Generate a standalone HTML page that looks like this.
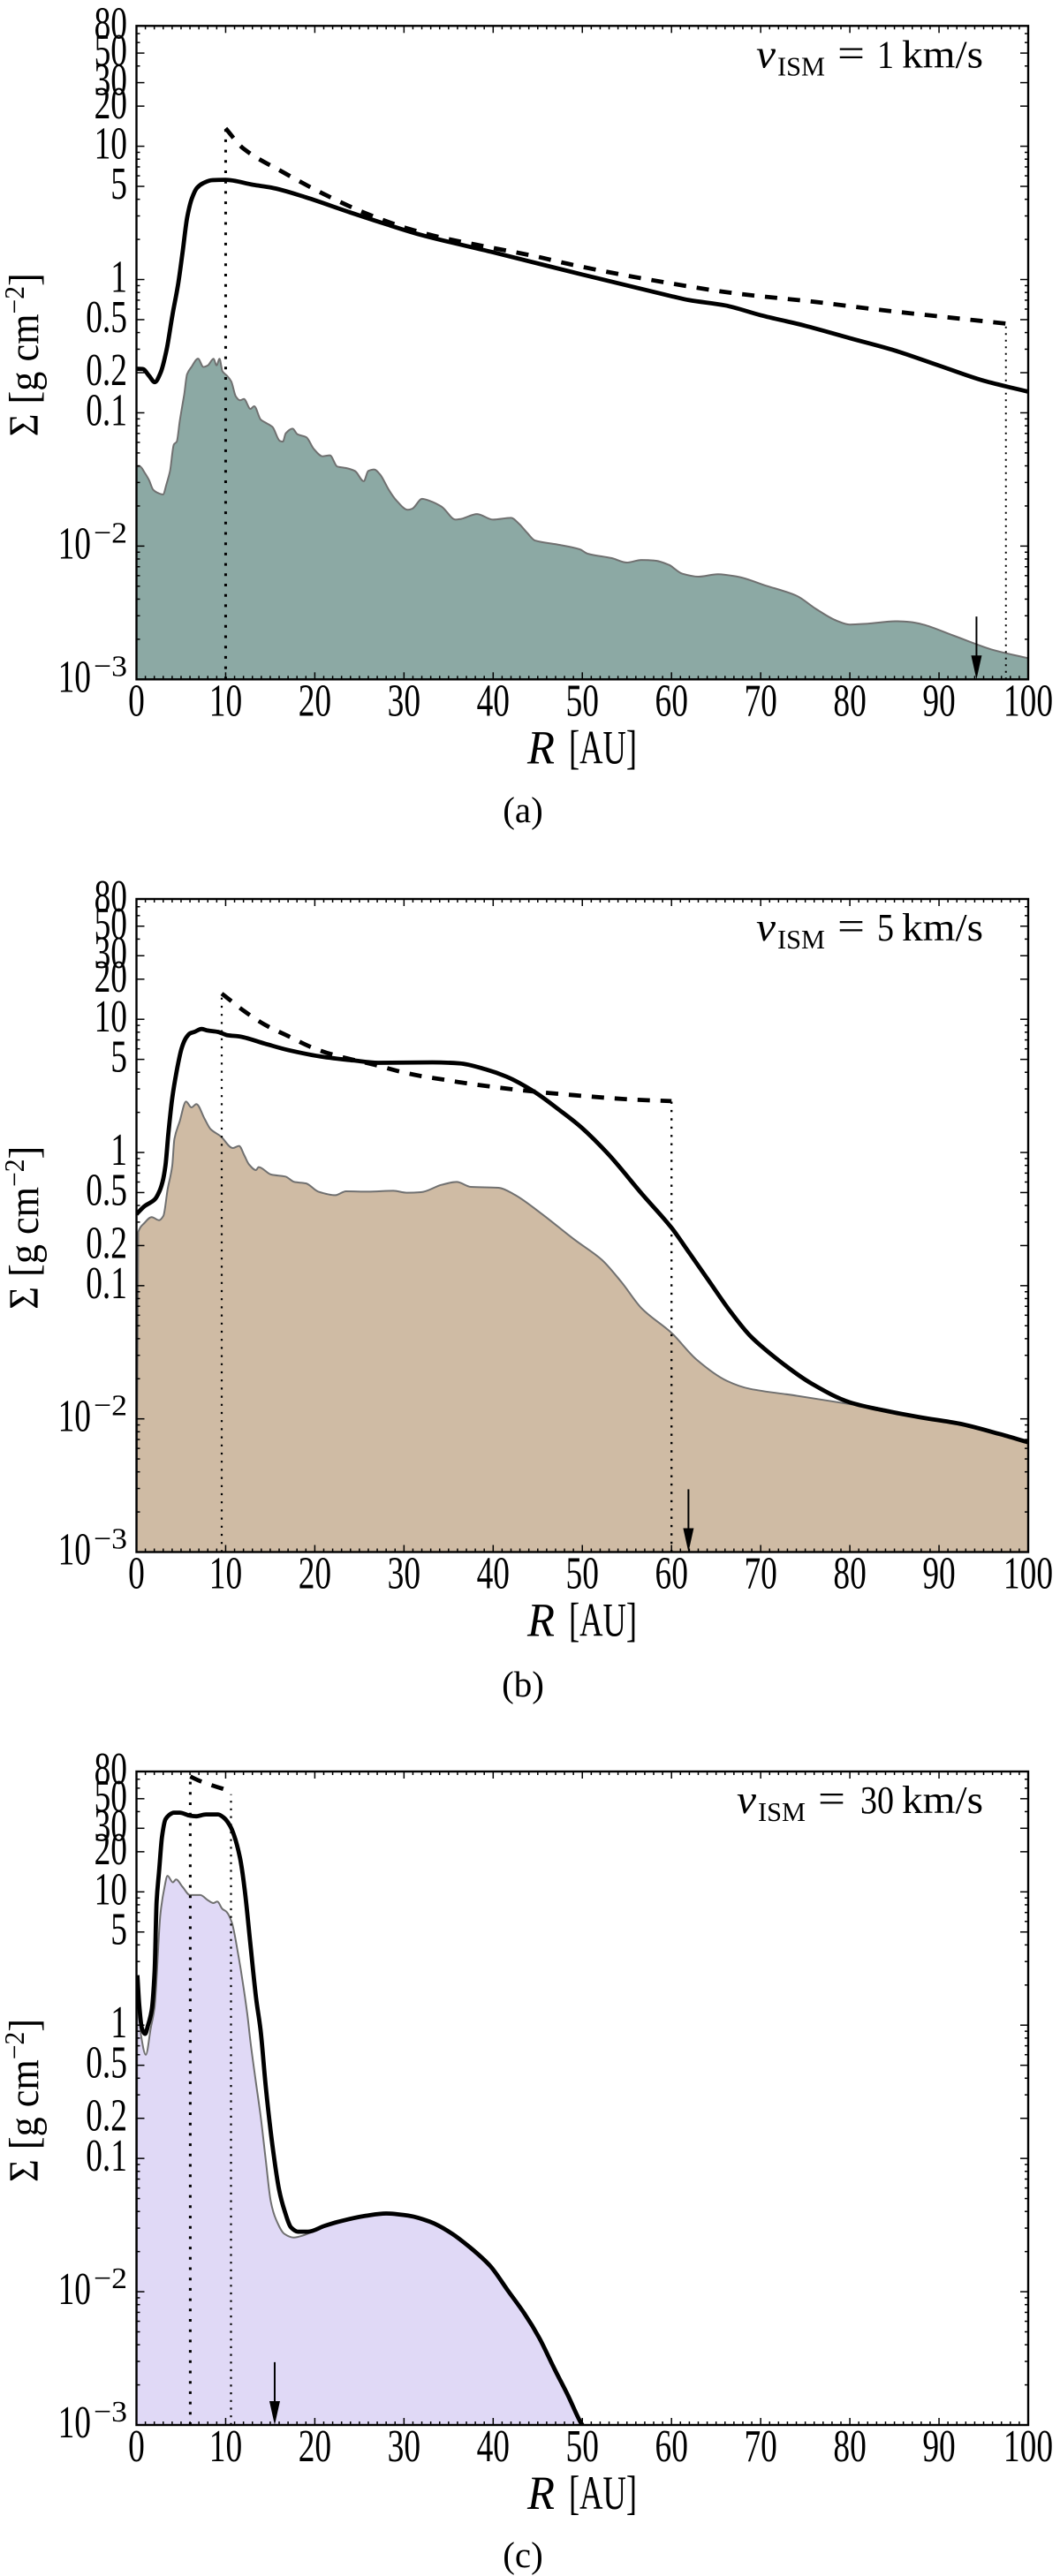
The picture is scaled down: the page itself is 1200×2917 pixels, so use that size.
<!DOCTYPE html>
<html lang="en">
<head>
<meta charset="utf-8">
<title>Surface density profiles</title>
<style>
html,body{margin:0;padding:0;background:#fff;}
svg{display:block;}
text{font-family:"Liberation Serif","DejaVu Serif",serif;fill:#000;}
</style>
</head>
<body>
<svg id="figure" xmlns="http://www.w3.org/2000/svg" width="1200" height="2917" viewBox="0 0 1200 2917"></svg>
<script>
// ---------- shared axis data ----------
const xTickValues = [0,10,20,30,40,50,60,70,80,90,100];
const xTickLabels = ["0","10","20","30","40","50","60","70","80","90","100"];
const yTickValues = [0.001,0.01,0.1,0.2,0.5,1,5,10,20,30,50,80];
const yTickLabels = ["10^-3","10^-2","0.1","0.2","0.5","1","5","10","20","30","50","80"];
const yMinorMultipliers = [2,3,4,5,6,7,8,9];
const arrowTopSigma = 0.00296;

// ---------- panel (a) v = 1 km/s ----------
const aDustR = [0,0,0.4,0.9,1.39,1.88,2.38,2.97,3.37,3.76,4.19,4.52,4.85,5.18,5.35,5.68,6.17,6.9,7.5,8,8.65,8.98,9.31,9.64,10.14,10.63,11.13,11.62,12.05,12.78,13.2,13.93,14.43,15.25,16.08,16.41,16.74,17.5,18.06,19.05,19.88,20.87,21.69,22.52,23.51,24.5,25.49,25.99,26.65,27.31,28.3,29.12,30.44,30.94,32.03,32.92,34.24,35.8,36.4,38.2,39.97,42,42.9,43.8,44.7,47.1,49.7,50.6,53.3,55,56.6,58.1,59.7,61.2,63,65.2,67.4,70.5,74,76.2,78.5,80,82,85.1,86.8,88.2,91.7,96.1,100];
const aDustSigma = [0.001,0.0395,0.0395,0.0357,0.0315,0.0264,0.0251,0.0244,0.0292,0.0366,0.0578,0.0608,0.0867,0.1175,0.1365,0.195,0.221,0.255,0.221,0.227,0.254,0.227,0.254,0.205,0.19,0.172,0.133,0.124,0.127,0.107,0.112,0.089,0.0846,0.0784,0.0615,0.0608,0.0701,0.076,0.069,0.0656,0.0536,0.0472,0.048,0.0395,0.0385,0.0366,0.0307,0.0366,0.0376,0.0345,0.0264,0.0221,0.0187,0.0191,0.0226,0.0218,0.0197,0.0158,0.016,0.0174,0.0158,0.0163,0.0147,0.0126,0.011,0.0103,0.00946,0.00877,0.00812,0.00753,0.00787,0.0078,0.00723,0.00621,0.0059,0.00615,0.0059,0.00507,0.00425,0.00338,0.00276,0.00258,0.00262,0.00273,0.00269,0.00258,0.00212,0.00166,0.00144];
const aGasR = [0,0.7,1.4,2.05,2.7,3.36,4.03,4.7,5.2,5.68,6.2,6.8,7.5,8.5,10,13.1,15.1,19,24,28,31.7,40,50,60,62,66,70,75,80,85,90,95,100];
const aGasSigma = [0.214,0.213,0.19,0.17,0.2,0.293,0.54,0.946,1.66,2.9,4.04,4.88,5.29,5.57,5.6,5.13,4.9,4.14,3.18,2.6,2.18,1.6,1.09,0.75,0.7,0.64,0.54,0.45,0.363,0.294,0.226,0.174,0.144];
const aDiskR = [10,12,16.5,21,25.6,30.2,34,39.3,44.6,49.1,56.7,67.3,75.7,83.2,97.5];
const aDiskSigma = [13.6,9.6,6.35,4.38,3.16,2.44,2.08,1.76,1.5,1.28,1.02,0.785,0.684,0.594,0.467];
const aDottedR = [10,97.5];
const aDottedTop = [13.6,0.467];
const aArrowR = 94.2;

// ---------- panel (b) v = 5 km/s ----------
const bDustR = [0,0.2,0.88,1.7,2.53,3.02,3.5,4.01,4.25,4.84,5.56,6.16,6.72,7.64,8.3,9.46,10.8,11.5,12.1,12.6,13.4,13.7,15.1,16.7,17.7,19,20.4,22.3,23.5,26,28.8,30.3,31.9,34.2,35.9,37.5,40.6,42.3,45.3,49.1,52.2,54.4,56.7,60,62.8,66.2,68.8,74.1,80,84,87.8,92.3,96.9,100];
const bDustSigma = [0.001,0.253,0.295,0.327,0.31,0.335,0.53,0.796,1.26,1.71,2.41,2.18,2.31,1.79,1.5,1.32,1.08,1.12,0.95,0.817,0.737,0.776,0.683,0.659,0.601,0.586,0.508,0.478,0.511,0.508,0.516,0.499,0.503,0.571,0.601,0.552,0.543,0.487,0.352,0.222,0.156,0.106,0.067,0.0442,0.0279,0.0193,0.0168,0.0149,0.0129,0.0118,0.0102,0.0091,0.00755,0.00655];
const bGasR = [0,0.88,2.03,2.53,2.92,3.25,3.58,4.01,4.5,5.07,5.56,5.99,6.49,7.31,7.97,9.13,10.28,11.44,14.4,17.07,21,24.3,27.1,33.2,36.2,39.3,41.5,44.6,47.6,49.9,52.9,56.7,60,62,64.3,66.6,68.8,71.9,75.7,80,83.2,87.8,92.3,96.9,100];
const bGasSigma = [0.344,0.394,0.443,0.503,0.601,0.796,1.39,2.56,4.05,6.08,7.26,7.83,8.04,8.45,8.24,8.04,7.57,7.45,6.56,5.86,5.21,4.91,4.71,4.75,4.67,4.18,3.71,2.86,2.04,1.54,0.973,0.487,0.272,0.176,0.106,0.064,0.0422,0.0279,0.0184,0.0133,0.0118,0.0103,0.0092,0.00766,0.00667];
const bDiskR = [9.56,12.1,14.4,17.07,19.7,22,27.1,29.3,31.9,34.6,37.5,43,49.1,56,60];
const bDiskSigma = [15.6,11.5,9.1,7.45,6.14,5.43,4.48,4.09,3.75,3.51,3.27,2.94,2.69,2.49,2.43];
const bDottedR = [9.56,60];
const bDottedTop = [15.6,2.43];
const bArrowR = 61.9;

// ---------- panel (c) v = 30 km/s ----------
const cDustR = [0,0.1,0.5,1.05,1.6,2.03,2.69,3.15,3.48,4.08,4.44,5.17,6,7.15,8,8.63,9.06,9.63,10.1,10.68,11.44,11.9,12.42,12.8,13.37,13.93,14.5,15.07,15.64,16.6,17.6,18.67,20,21.1,23,25.7,28,30.6,32.9,35.2,37.4,39.7,41.6,43.5,45.2,46.9,48.4,49.8,50];
const cDustSigma = [0.001,1.9,0.85,0.6,0.95,1.36,6.9,10.9,13.2,11.8,12.4,10.9,9.46,9.46,8.67,8.24,8.45,7.45,7.08,5.93,3.3,2.14,1.22,0.737,0.381,0.207,0.0966,0.0473,0.0349,0.0271,0.0255,0.0264,0.0288,0.0312,0.034,0.0371,0.0386,0.0371,0.0335,0.0278,0.0215,0.0155,0.0103,0.00687,0.00446,0.00261,0.00166,0.00105,0.001];
const cGasR = [0.1,0.3,0.6,0.97,1.3,1.7,2.03,2.26,2.53,2.86,3.25,3.68,4.18,4.84,6,6.65,7.8,9.13,9.8,10.45,10.95,11.6,12.1,12.76,13.42,13.93,14.5,15.26,16,16.6,17.35,18.1,19.24,21.1,23,25.7,28,30.6,32.9,35.2,37.4,39.7,41.6,43.5,45.2,46.9,48.4,49.8,50];
const cGasSigma = [2.37,1.45,0.95,0.86,1,1.29,2.5,8.46,14.1,25.9,35,37.8,39.3,39.3,37.3,36.9,38.1,38.1,36,31.7,26.5,18.1,10.9,4.15,1.58,0.904,0.344,0.124,0.058,0.0406,0.0303,0.0282,0.0282,0.0312,0.034,0.0371,0.0386,0.0371,0.0335,0.0278,0.0215,0.0155,0.0103,0.00687,0.00446,0.00261,0.00166,0.00105,0.001];
const cDiskR = [6.03,7.1,9.7,10.6];
const cDiskSigma = [73.3,68,59.3,57];
const cDottedR = [6.03,10.6];
const cDottedTop = [73.3,54];
const cArrowR = 15.5;

// ---------- drawing ----------
const NS = 'http://www.w3.org/2000/svg';
const figure = document.getElementById('figure');
const PLOT_LEFT = 154.5, PLOT_RIGHT = 1164;

function mk(tag, parent, attrs, txt) {
  const el = document.createElementNS(NS, tag);
  for (const k in attrs) el.setAttribute(k, attrs[k]);
  if (txt !== undefined) el.textContent = txt;
  parent.appendChild(el);
  return el;
}
function xScale(r) { return PLOT_LEFT + r / 100 * (PLOT_RIGHT - PLOT_LEFT); }
function makeYScale(top, bottom) {
  const span = Math.log10(80) + 3;
  return v => bottom - (Math.log10(v) + 3) / span * (bottom - top);
}
// monotone cubic path through the data points, skipping vertical steps
function curvePath(rs, vs, y) {
  const X = rs.map(xScale), Y = vs.map(y), n = X.length;
  const s = [], m = [];
  for (let i = 0; i < n - 1; i++) s.push((Y[i + 1] - Y[i]) / Math.max(X[i + 1] - X[i], 1e-6));
  for (let i = 0; i < n; i++) {
    if (i === 0) m.push(s[0]);
    else if (i === n - 1) m.push(s[n - 2]);
    else m.push(s[i - 1] * s[i] <= 0 ? 0 : 2 * s[i - 1] * s[i] / (s[i - 1] + s[i]));
  }
  let d = 'M' + X[0].toFixed(1) + ' ' + Y[0].toFixed(1);
  for (let i = 0; i < n - 1; i++) {
    const h = X[i + 1] - X[i];
    if (h < 1e-6) { d += 'L' + X[i + 1].toFixed(1) + ' ' + Y[i + 1].toFixed(1); continue; }
    const tail = (i === 0 && s[0] > 1000) ? 0 : m[i];
    d += 'C' + (X[i] + h / 3).toFixed(1) + ' ' + (Y[i] + tail * h / 3).toFixed(1) + ' ' +
         (X[i + 1] - h / 3).toFixed(1) + ' ' + (Y[i + 1] - m[i + 1] * h / 3).toFixed(1) + ' ' +
         X[i + 1].toFixed(1) + ' ' + Y[i + 1].toFixed(1);
  }
  return d;
}

function drawPanel(p) {
  const y = makeYScale(p.top, p.bottom);
  const g = mk('g', figure, {});
  
  

  const clipId = 'clip-' + p.key;
  const defs = mk('defs', g, {});
  const cp = mk('clipPath', defs, {id: clipId});
  mk('rect', cp, {x: PLOT_LEFT, y: p.top, width: PLOT_RIGHT - PLOT_LEFT, height: p.bottom - p.top});
  const plot = mk('g', g, {'clip-path': 'url(#' + clipId + ')'});

  // dust area
  const dustD = curvePath(p.dustR, p.dustV, y);
  const lastX = xScale(p.dustR[p.dustR.length - 1]).toFixed(1);
  const area = mk('path', plot, {d: dustD + 'L' + lastX + ' ' + p.bottom + 'L' + PLOT_LEFT + ' ' + p.bottom + 'Z', fill: p.fill, stroke: 'none'});
  
  
  const dustLine = mk('path', plot, {d: dustD, fill: 'none', stroke: '#707070', 'stroke-width': 2, 'stroke-linejoin': 'round'});
  
  

  // dotted verticals
  p.dotR.forEach((r, i) => {
    const d = mk('line', plot, {x1: xScale(r), x2: xScale(r), y1: p.bottom, y2: y(p.dotTop[i]), stroke: '#000', 'stroke-width': p.dotW[i], 'stroke-dasharray': p.dotW[i] + ' ' + p.dotGap[i]});
    
    
  });

  // dashed initial disk
  const dash = mk('path', plot, {d: curvePath(p.diskR, p.diskV, y), fill: 'none', stroke: '#000', 'stroke-width': 4.8, 'stroke-dasharray': '14 12'});
  
  

  // solid gas
  const gas = mk('path', plot, {d: curvePath(p.gasR, p.gasV, y), fill: 'none', stroke: '#000', 'stroke-width': 4.8, 'stroke-linejoin': 'round', 'stroke-linecap': 'butt'});
  
  

  // arrow
  const ax = xScale(p.arrowR);
  const shaft = mk('line', g, {x1: ax, x2: ax, y1: y(arrowTopSigma), y2: p.bottom - 20, stroke: '#000', 'stroke-width': 2});
  
  
  const head = mk('polygon', g, {points: (ax - 6) + ',' + (p.bottom - 27) + ' ' + (ax + 6) + ',' + (p.bottom - 27) + ' ' + ax + ',' + p.bottom, fill: '#000'});
  
  

  // ticks
  const ticks = mk('g', g, {stroke: '#000', 'stroke-width': 1.5, fill: 'none'});
  
  
  for (let r = 0; r <= 100; r++) {
    const len = r % 10 === 0 ? 8 : 4;
    const xx = xScale(r);
    mk('line', ticks, {x1: xx, x2: xx, y1: p.bottom, y2: p.bottom - len});
    mk('line', ticks, {x1: xx, x2: xx, y1: p.top, y2: p.top + len});
  }
  for (let e = -3; e <= 1; e++) {
    [1].concat(yMinorMultipliers).forEach(m => {
      const v = m * Math.pow(10, e);
      if (v > 80.001) return;
      const major = yTickValues.some(t => Math.abs(t - v) / v < 1e-6);
      const len = major ? 9 : 4;
      const yy = y(v);
      mk('line', ticks, {x1: PLOT_LEFT, x2: PLOT_LEFT + len, y1: yy, y2: yy});
      mk('line', ticks, {x1: PLOT_RIGHT, x2: PLOT_RIGHT - len, y1: yy, y2: yy});
    });
  }

  // frame
  const frame = mk('rect', g, {x: PLOT_LEFT, y: p.top, width: PLOT_RIGHT - PLOT_LEFT, height: p.bottom - p.top, fill: 'none', stroke: '#000', 'stroke-width': 2.4});
  
  

  // x tick labels
  xTickValues.forEach((v, i) => {
    const t = mk('text', g, {transform: 'translate(' + xScale(v) + ',' + (p.bottom + 41) + ') scale(0.72,1)', 'font-size': 52, 'text-anchor': 'middle'}, xTickLabels[i]);
    
    
  });

  // y tick labels
  yTickValues.forEach((v, i) => {
    const s = yTickLabels[i];
    const base = y(v) + 14;
    if (s.indexOf('^') >= 0) {
      const parts = s.split('^');
      const t1 = mk('text', g, {transform: 'translate(103,' + base + ') scale(0.72,1)', 'font-size': 52, 'text-anchor': 'end'}, parts[0]);
      
      
      const t2 = mk('text', g, {x: 106, y: base - 18, 'font-size': 34, textLength: 38, lengthAdjust: 'spacingAndGlyphs'}, parts[1].replace('-', '\u2212'));
      
      
    } else {
      const t = mk('text', g, {transform: 'translate(144,' + base + ') scale(0.72,1)', 'font-size': 52, 'text-anchor': 'end'}, s);
      
      
    }
  });

  // y axis title
  const yBase = (p.top + p.bottom) / 2 + 95;
  const yt = mk('text', g, {transform: 'translate(43,' + yBase + ') rotate(-90)', 'font-size': 48, textLength: 185, lengthAdjust: 'spacingAndGlyphs'});
  
  
  mk('tspan', yt, {}, '\u03A3 [g cm');
  mk('tspan', yt, {'font-size': 32, dy: -16}, '\u22122');
  mk('tspan', yt, {dy: 16}, ']');

  // x axis title
  const xt1 = mk('text', g, {x: 597, y: p.bottom + 95, 'font-size': 54, 'font-style': 'italic', textLength: 31, lengthAdjust: 'spacingAndGlyphs'}, 'R');
  
  
  const xt2 = mk('text', g, {x: 644, y: p.bottom + 95, 'font-size': 54, textLength: 77, lengthAdjust: 'spacingAndGlyphs'}, '[AU]');
  
  

  // velocity annotation
  const ann = mk('g', g, {});
  
  
  const by = p.top + 47;
  mk('text', ann, {x: p.vX, y: by, 'font-size': 46, 'font-style': 'italic', textLength: 22, lengthAdjust: 'spacingAndGlyphs'}, 'v');
  mk('text', ann, {x: p.vX + 24, y: by + 9, 'font-size': 31, textLength: 54, lengthAdjust: 'spacingAndGlyphs'}, 'ISM');
  mk('text', ann, {x: p.vX + 92, y: by - 1, 'font-size': 46, textLength: 31, lengthAdjust: 'spacingAndGlyphs'}, '=');
  mk('text', ann, {x: 1012, y: by, 'font-size': 44, 'text-anchor': 'end', textLength: p.vLabel.length * 19, lengthAdjust: 'spacingAndGlyphs'}, p.vLabel);
  mk('text', ann, {x: 1021, y: by, 'font-size': 44, textLength: 92, lengthAdjust: 'spacingAndGlyphs'}, 'km/s');

  // caption
  const cap = mk('text', g, {x: 592, y: p.capY, 'font-size': 41, 'text-anchor': 'middle'}, p.caption);
  
  
}

drawPanel({key:'a', name:'panel-a-chart', top:29.3, bottom:769.3, fill:'#8ca9a4',
  dustR:aDustR, dustV:aDustSigma, gasR:aGasR, gasV:aGasSigma, diskR:aDiskR, diskV:aDiskSigma,
  dotR:aDottedR, dotTop:aDottedTop, dotW:[3,2], dotGap:[8.7,5.5], arrowR:aArrowR,
  vX:856, vLabel:'1', caption:'(a)', capY:931});
drawPanel({key:'b', name:'panel-b-chart', top:1018, bottom:1757.5, fill:'#cfbba4',
  dustR:bDustR, dustV:bDustSigma, gasR:bGasR, gasV:bGasSigma, diskR:bDiskR, diskV:bDiskSigma,
  dotR:bDottedR, dotTop:bDottedTop, dotW:[2.2,2.4], dotGap:[7,7], arrowR:bArrowR,
  vX:856, vLabel:'5', caption:'(b)', capY:1921});
drawPanel({key:'c', name:'panel-c-chart', top:2006, bottom:2746, fill:'#e0d9f6',
  dustR:cDustR, dustV:cDustSigma, gasR:cGasR, gasV:cGasSigma, diskR:cDiskR, diskV:cDiskSigma,
  dotR:cDottedR, dotTop:cDottedTop, dotW:[3,2.2], dotGap:[8.7,6.5], arrowR:cArrowR,
  vX:834, vLabel:'30', caption:'(c)', capY:2907});
</script>
</body>
</html>
